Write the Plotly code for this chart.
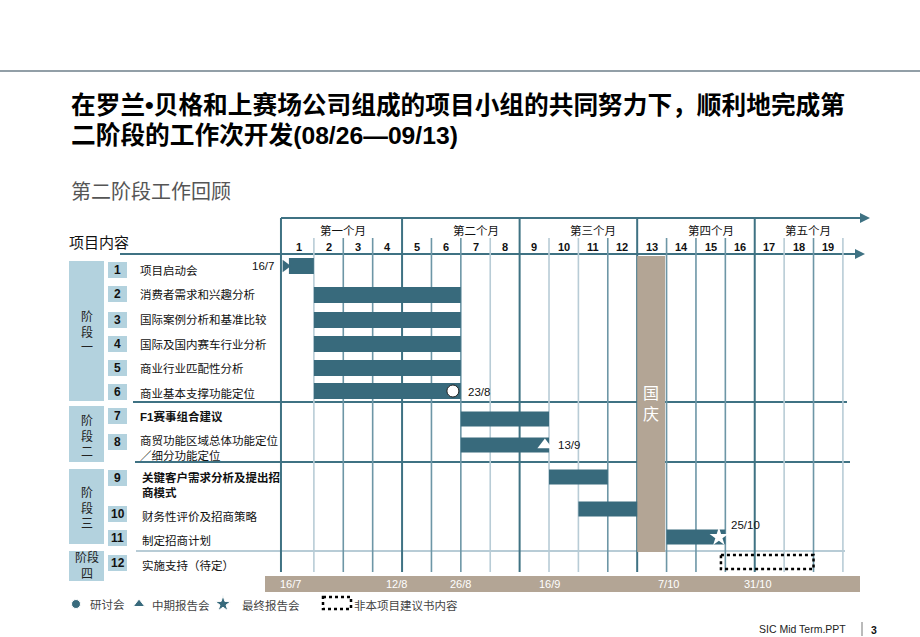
import plotly.graph_objects as go

# ---------------- data ----------------
title_line1 = "在罗兰•贝格和上赛场公司组成的项目小组的共同努力下，顺利地完成第"
title_line2 = "二阶段的工作次开发(08/26—09/13)"
subtitle = "第二阶段工作回顾"

months = ["第一个月", "第二个月", "第三个月", "第四个月", "第五个月"]
month_label_pos = [2.0, 6.5, 10.5, 14.5, 17.8]
weeks = list(range(1, 20))

task_ids = [str(i) for i in range(1, 13)]
tasks = ["项目启动会", "消费者需求和兴趣分析", "国际案例分析和基准比较", "国际及国内赛车行业分析",
         "商业行业匹配性分析", "商业基本支撑功能定位", "F1赛事组合建议",
         "商贸功能区域总体功能定位<br>／细分功能定位", "关键客户需求分析及提出招<br>商模式",
         "财务性评价及招商策略", "制定招商计划", "实施支持（待定）"]
task_bold = [False, False, False, False, False, False, True, False, True, False, False, False]
task_start = [0.15, 1, 1, 1, 1, 1, 6, 6, 9, 10, 13]
task_end = [1, 6, 6, 6, 6, 6, 9, 9, 11, 12, 15]
pending_start, pending_end = 14.85, 18.0  # 实施支持（待定）

phases = ["阶<br>段<br>一", "阶<br>段<br>二", "阶<br>段<br>三", "阶段<br>四"]

milestone_rows = [6, 8, 11]
milestone_weeks = [5.73, 8.86, 14.78]
milestone_symbols = ["circle", "triangle-up", "star"]
milestone_labels = ["23/8", "13/9", "25/10"]

start_label = "16/7"
holiday_label = "国<br>庆"
holiday_start, holiday_end = 12.0, 12.95

date_labels = ["16/7", "12/8", "26/8", "16/9", "7/10", "31/10"]
date_weeks = [0.22, 3.8, 5.98, 9.0, 13.05, 16.1]

legend_items = ["研讨会", "中期报告会", "最终报告会", "非本项目建议书内容"]
legend_symbols = ["circle", "triangle-up", "star"]

# ---------------- layout helpers ----------------
W, H = 920, 637
X0, WPX = 284.5, 29.39          # pixel of week 0, pixels per week
def px(x):
    return x / W
def px_to_week(x):
    return (x - X0) / WPX

row_y = [266, 295, 320, 344, 368, 391, 419, 445, 477, 509, 537, 562]
num_y = [270, 294, 320, 344, 368, 392, 416, 442, 478, 514, 538, 563]
label_y = [271, 294, 319, 344, 368, 393, 416, 448, 485, 516, 540, 565]
label_x = [138] * 8 + [140] * 4
phase_box = [(261, 401), (406, 462), (469, 544), (551, 581)]
legend_marker_px = [76, 139, 223]
legend_text_px = [88, 150, 240, 352]
legend_y = 604

TEAL = "#386a7c"
DARK = "#3f7283"
MED = "#6d96a6"
LIGHT = "#b8ccd6"
TAUPE = "#b3a595"
BOXBLUE = "#b3d2de"
FONT = "Liberation Sans, Arial, Noto Sans CJK SC, sans-serif"

fig = go.Figure()

# holiday column
fig.add_trace(go.Bar(orientation="h", y=[404], base=[holiday_start], x=[holiday_end - holiday_start],
                     width=[296], marker=dict(color=TAUPE, line=dict(width=0)),
                     hoverinfo="skip", showlegend=False))

# task bars
n = len(task_start)
fig.add_trace(go.Bar(orientation="h", y=row_y[:n], base=task_start,
                     x=[e - s for s, e in zip(task_start, task_end)],
                     width=[16] * 6 + [15] * (n - 6),
                     marker=dict(color=TEAL, line=dict(width=0)),
                     hoverinfo="skip", showlegend=False))

# start arrow
fig.add_trace(go.Scatter(x=[task_start[0] - 0.12], y=[row_y[0]], mode="markers",
                         marker=dict(symbol="triangle-right", size=11, color=TEAL, opacity=1),
                         hoverinfo="skip", showlegend=False))

# milestones
fig.add_trace(go.Scatter(x=milestone_weeks, y=[row_y[r - 1] for r in milestone_rows], mode="markers",
                         marker=dict(symbol=milestone_symbols, size=[12, 13, 14], color="#ffffff", opacity=1,
                                     line=dict(color=["#222222", "#ffffff", "#ffffff"], width=[1, 0, 0])),
                         hoverinfo="skip", showlegend=False))

# legend markers
fig.add_trace(go.Scatter(x=[px_to_week(v) for v in legend_marker_px], y=[legend_y] * 3, mode="markers",
                         marker=dict(symbol=legend_symbols, size=[9, 10, 12], color=TEAL, opacity=1),
                         hoverinfo="skip", showlegend=False, cliponaxis=False))

shapes = []
# grid: week lines
light_weeks = {1, 7, 9, 10, 17, 19}
for w in weeks:
    if w % 4 == 0:
        continue
    shapes.append(dict(type="line", xref="x", yref="y", x0=w, x1=w, y0=238, y1=572,
                       line=dict(color=LIGHT if w in light_weeks else MED, width=1.6), layer="below"))
# month dividers
for w in [0, 4, 8, 12, 16]:
    xw = w - (0.12 if w == 0 else 0)
    shapes.append(dict(type="line", xref="x", yref="y", x0=xw, x1=xw,
                       y0=218, y1=572, line=dict(color=DARK, width=2), layer="below"))
# horizontal separators
shapes.append(dict(type="line", xref="paper", yref="y", x0=px(281), x1=px(862), y0=218, y1=218,
                   line=dict(color=DARK, width=2), layer="below"))
shapes.append(dict(type="line", xref="paper", yref="y", x0=px(120), x1=px(857), y0=254, y1=254,
                   line=dict(color=DARK, width=2), layer="below"))
shapes.append(dict(type="line", xref="paper", yref="y", x0=px(133), x1=px(847), y0=402, y1=402,
                   line=dict(color=DARK, width=2), layer="below"))
shapes.append(dict(type="line", xref="paper", yref="y", x0=px(135), x1=px(850), y0=462, y1=462,
                   line=dict(color=DARK, width=2), layer="below"))
shapes.append(dict(type="line", xref="paper", yref="y", x0=px(136), x1=px(845), y0=551, y1=551,
                   line=dict(color=LIGHT, width=2), layer="below"))
# top page rule
shapes.append(dict(type="line", xref="paper", yref="y", x0=0, x1=1, y0=71, y1=71,
                   line=dict(color="#6e7f8a", width=1.5)))
# pending dotted box
shapes.append(dict(type="rect", xref="x", yref="y", x0=pending_start, x1=pending_end,
                   y0=row_y[11] - 7, y1=row_y[11] + 7, line=dict(color="black", width=2.5, dash="dot")))
# bottom date bar
shapes.append(dict(type="rect", xref="paper", yref="y", x0=px(265), x1=px(860), y0=576, y1=592,
                   fillcolor=TAUPE, line=dict(width=0), layer="below"))
# phase boxes
for (y0, y1) in phase_box:
    shapes.append(dict(type="rect", xref="paper", yref="y", x0=px(69), x1=px(104), y0=y0, y1=y1,
                       fillcolor=BOXBLUE, line=dict(width=0), layer="below"))
# number boxes
for y in num_y:
    shapes.append(dict(type="rect", xref="paper", yref="y", x0=px(108), x1=px(127), y0=y - 8, y1=y + 8,
                       fillcolor=BOXBLUE, line=dict(width=0), layer="below"))
# legend dotted box
shapes.append(dict(type="rect", xref="paper", yref="y", x0=px(323), x1=px(351), y0=597, y1=609,
                   line=dict(color="black", width=2.5, dash="dot")))
# footer separator
shapes.append(dict(type="line", xref="paper", yref="y", x0=px(862), x1=px(862), y0=622, y1=636,
                   line=dict(color="#777", width=1)))

ann = []
def text(x, y, s, size=11.5, color="#111", xanchor="left", xref="paper", bold=False, yanchor="middle",
         align="left"):
    ann.append(dict(x=px(x) if xref == "paper" else x, y=y, xref=xref, yref="y",
                    text=f"<b>{s}</b>" if bold else s, showarrow=False,
                    xanchor=xanchor, yanchor=yanchor, align=align,
                    font=dict(size=size, color=color, family=FONT)))

# arrows at ends of header lines
ann.append(dict(x=px(870), y=218, ax=-14, ay=0, xref="paper", yref="y", axref="pixel", ayref="pixel",
                showarrow=True, arrowhead=2, arrowsize=1, arrowwidth=2, arrowcolor=DARK, text=""))
ann.append(dict(x=px(865), y=254, ax=-14, ay=0, xref="paper", yref="y", axref="pixel", ayref="pixel",
                showarrow=True, arrowhead=2, arrowsize=1, arrowwidth=2, arrowcolor=DARK, text=""))

# titles
text(69, 105, title_line1, size=24.7, bold=True, color="#000")
text(69, 135, title_line2, size=24.7, bold=True, color="#000")
text(69, 192, subtitle, size=20, color="#555")
text(67, 242, "项目内容", size=15, color="#111")

# header
for m, pos in zip(months, month_label_pos):
    text(pos, 230, m, size=11.5, xref="x", xanchor="center")
for w in weeks:
    text(w - 0.5, 247, str(w), size=11, xref="x", xanchor="center", bold=True)

# left column
for tid, y in zip(task_ids, num_y):
    text(117.5, y, tid, size=12, bold=True, xanchor="center")
for t, y, x, b in zip(tasks, label_y, label_x, task_bold):
    text(x, y, t, size=11.5, bold=b)
phase_text_y = [332, 436, 508, 565]
for p, y in zip(phases, phase_text_y):
    text(86.5, y, p, size=12, xanchor="center", color="#222", align="center")

# bar labels
text(276, 266, start_label, size=11.5, xanchor="right")
label_dx = [0.45, 0.38, 0.34]
label_dy = [1, 0, -12]
for r, w, lab, dx, dy in zip(milestone_rows, milestone_weeks, milestone_labels, label_dx, label_dy):
    text(w + dx, row_y[r - 1] + dy, lab, size=11.5, xref="x")
ann.append(dict(x=(holiday_start + holiday_end) / 2, y=404, xref="x", yref="y", text=holiday_label,
                showarrow=False, font=dict(size=16, color="white", family=FONT)))

# date bar labels
for d, w in zip(date_labels, date_weeks):
    text(w, 584, d, size=11, color="white", xref="x", xanchor="center")

# legend texts
for item, x in zip(legend_items, legend_text_px):
    text(x, legend_y + 1, item, size=11.5, color="#444")

# footer
text(848, 629, "SIC Mid Term.PPT", size=10.5, color="#222", xanchor="right")
text(874, 630, "3", size=10.5, color="#111", xanchor="center", bold=True)

fig.update_layout(
    width=W, height=H, margin=dict(l=0, r=0, t=0, b=0),
    paper_bgcolor="white", plot_bgcolor="white", barmode="overlay",
    xaxis=dict(range=[-X0 / WPX, (W - X0) / WPX], visible=False, fixedrange=True),
    yaxis=dict(range=[H, 0], visible=False, fixedrange=True),
    shapes=shapes, annotations=ann, showlegend=False,
    font=dict(family=FONT),
)
fig.write_html("out.html", config=dict(displayModeBar=False),
               post_script="document.body.style.margin='0';document.body.style.overflow='hidden';")
